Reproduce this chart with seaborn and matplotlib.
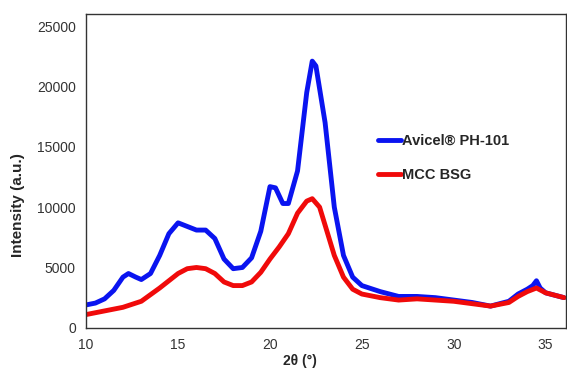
import matplotlib
matplotlib.use("Agg")
import matplotlib.pyplot as plt
import seaborn as sns
import pandas as pd

# XRD pattern
two_theta_avicel = [10, 10.5, 11, 11.5, 12, 12.3, 12.7, 13, 13.5, 14, 14.5, 15, 15.5,
                    16, 16.5, 17, 17.5, 18, 18.5, 19, 19.5, 20, 20.3, 20.7, 21, 21.5,
                    22, 22.3, 22.5, 23, 23.5, 24, 24.5, 25, 26, 27, 28, 29, 30, 31,
                    32, 33, 33.5, 34, 34.3, 34.5, 34.7, 35, 35.5, 36]
int_avicel = [1900, 2050, 2400, 3100, 4200, 4500, 4200, 4000, 4500, 6000, 7800, 8700, 8400,
              8100, 8100, 7400, 5700, 4900, 5000, 5800, 8000, 11700, 11600, 10300, 10300, 13000,
              19500, 22100, 21700, 17000, 10000, 6000, 4200, 3500, 3000, 2600, 2600, 2500, 2300, 2100,
              1800, 2200, 2800, 3200, 3500, 3900, 3300, 2900, 2700, 2500]

two_theta_mcc = [10, 11, 12, 13, 14, 15, 15.5, 16, 16.5, 17, 17.5, 18, 18.5, 19, 19.5,
                 20, 20.5, 21, 21.5, 22, 22.3, 22.7, 23, 23.5, 24, 24.5, 25, 26, 27,
                 28, 29, 30, 31, 32, 33, 33.5, 34, 34.5, 35, 35.5, 36]
int_mcc = [1100, 1400, 1700, 2200, 3300, 4500, 4900, 5000, 4900, 4500, 3800, 3500, 3500, 3800, 4600,
           5700, 6700, 7800, 9500, 10500, 10700, 10000, 8500, 6000, 4200, 3200, 2800, 2500, 2300,
           2400, 2300, 2200, 2000, 1800, 2100, 2600, 3000, 3300, 2900, 2700, 2500]

df_a = pd.DataFrame({"x": two_theta_avicel, "y": int_avicel})
df_m = pd.DataFrame({"x": two_theta_mcc, "y": int_mcc})

sns.set_style("white")
plt.rcParams['font.family'] = ['Liberation Sans', 'DejaVu Sans']

fig = plt.figure(figsize=(5.67, 3.70), dpi=100)
ax = fig.add_axes([0.152, 0.114, 0.846, 0.848])

sns.lineplot(data=df_a, x="x", y="y", color="#0a14f0", linewidth=3.5, label="Avicel® PH-101", ax=ax)
sns.lineplot(data=df_m, x="x", y="y", color="#f00a0a", linewidth=3.5, label="MCC BSG", ax=ax)

ax.set_xlim(10, 36.1)
ax.set_ylim(0, 26000)
ax.set_xticks([10, 15, 20, 25, 30, 35])
ax.set_yticks([0, 5000, 10000, 15000, 20000, 25000])
ax.tick_params(axis="both", direction="out", length=4, width=1, labelsize=10,
               labelcolor="#333333", color="#333333")
for s in ax.spines.values():
    s.set_color("#333333")
    s.set_linewidth(1)

ax.set_xlabel("2θ (°)", fontsize=10, fontweight="bold")
ax.set_ylabel("Intensity (a.u.)", fontsize=11, fontweight="bold")
ax.xaxis.set_label_coords(0.446, -0.083)
ax.yaxis.set_label_coords(-0.128, 0.39)

leg = ax.legend(loc="upper left", bbox_to_anchor=(0.58, 0.66), frameon=False,
                handlelength=1.6, handletextpad=0.1, labelspacing=1.4,
                prop={"weight": "bold", "size": 10.5})

fig.savefig("out.png", dpi=100)
